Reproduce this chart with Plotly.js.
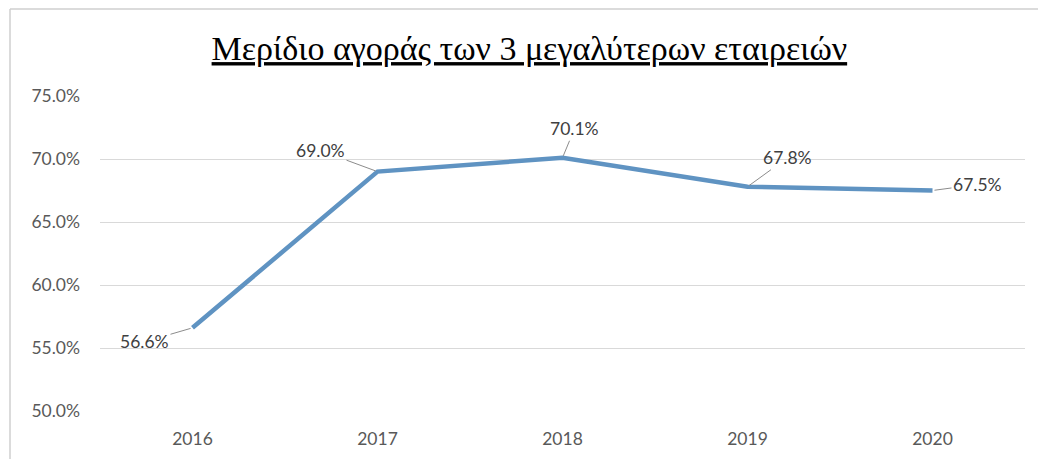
<!DOCTYPE html>
<html>
<head>
<meta charset="utf-8">
<script src="https://cdn.plot.ly/plotly-3.0.1.min.js"></script>
<style>
html,body{margin:0;padding:0;background:#fff;}
#chart{width:1038px;height:459px;}
</style>
</head>
<body>
<div id="chart"></div>
<script>
const years = ["2016", "2017", "2018", "2019", "2020"];
const share = [0.566, 0.690, 0.701, 0.678, 0.675];
const labels = ["56.6%", "69.0%", "70.1%", "67.8%", "67.5%"];
const yTicks = [0.50, 0.55, 0.60, 0.65, 0.70, 0.75];
const yTickText = ["50.0%", "55.0%", "60.0%", "65.0%", "70.0%", "75.0%"];
const titleText = "Μερίδιο αγοράς των 3 μεγαλύτερων εταιρειών";

const offsets = [[-48, 14], [-57, -21], [12, -29], [40, -29], [45, -6]];

const annotations = years.map((yr, i) => ({
  x: i, y: share[i], xref: 'x', yref: 'y',
  text: labels[i], showarrow: true, arrowhead: 0, arrowwidth: 1,
  arrowcolor: '#8c8c8c', ax: offsets[i][0], ay: offsets[i][1],
  standoff: 2,
  font: {family: 'Lato, "Open Sans", sans-serif', size: 17.5, color: '#404040'}
}));

const trace = {
  x: years, y: share, type: 'scatter', mode: 'lines',
  line: {color: '#5f93c2', width: 4.5},
  hoverinfo: 'skip'
};

const layout = {
  width: 1038, height: 459,
  margin: {l: 100, r: 13, t: 96, b: 48},
  paper_bgcolor: '#ffffff', plot_bgcolor: '#ffffff',
  showlegend: false,
  title: {
    text: '<u>' + titleText + '</u>',
    font: {family: '"Liberation Serif", "DejaVu Serif", serif', size: 34, color: '#000000'},
    x: 0.51, xref: 'container', xanchor: 'center',
    y: 0.895, yref: 'container', yanchor: 'middle'
  },
  xaxis: {
    type: 'category', range: [-0.5, 4.5],
    showgrid: false, zeroline: false, showline: false, ticks: '',
    tickfont: {family: 'Lato, "Open Sans", sans-serif', size: 17.5, color: '#595959'},
    ticklabelstandoff: 15
  },
  yaxis: {
    range: [0.50, 0.75], tickvals: yTicks, ticktext: yTickText,
    showgrid: true, gridcolor: '#d9d9d9', gridwidth: 1,
    zeroline: false, showline: false, ticks: '',
    tickfont: {family: 'Lato, "Open Sans", sans-serif', size: 17.5, color: '#595959'},
    ticklabelstandoff: 19
  },
  annotations: annotations,
  shapes: [
    {type: 'line', xref: 'paper', yref: 'paper', x0: -0.0973, x1: -0.0973, y0: -0.2, y1: 1.276,
     line: {color: '#cfcfcf', width: 1.5}},
    {type: 'line', xref: 'paper', yref: 'paper', x0: -0.0973, x1: 1.1, y0: 1.276, y1: 1.276,
     line: {color: '#cfcfcf', width: 1.5}}
  ]
};

Plotly.newPlot('chart', [trace], layout, {displayModeBar: false, staticPlot: true});
</script>
</body>
</html>
